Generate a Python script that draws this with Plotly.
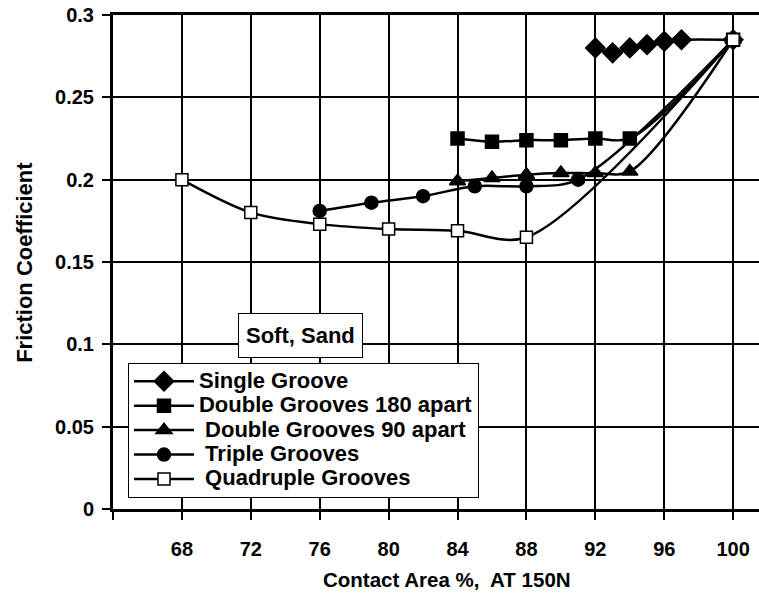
import plotly.graph_objects as go

# ---- data ----
single_x = [92, 93, 94, 95, 96, 97, 100]
single_y = [0.280, 0.277, 0.280, 0.282, 0.284, 0.285, 0.285]

dbl180_x = [84, 86, 88, 90, 92, 94, 100]
dbl180_y = [0.225, 0.223, 0.224, 0.224, 0.225, 0.225, 0.285]

dbl90_x = [84, 86, 88, 90, 92, 94, 100]
dbl90_y = [0.199, 0.201, 0.203, 0.204, 0.204, 0.205, 0.285]

triple_x = [76, 79, 82, 85, 88, 91, 100]
triple_y = [0.181, 0.186, 0.190, 0.196, 0.196, 0.200, 0.285]

quad_x = [68, 72, 76, 80, 84, 88, 100]
quad_y = [0.200, 0.180, 0.173, 0.170, 0.169, 0.165, 0.285]

x_tickvals = [64, 68, 72, 76, 80, 84, 88, 92, 96, 100]
x_ticktext = ["", "68", "72", "76", "80", "84", "88", "92", "96", "100"]
y_tickvals = [0, 0.05, 0.1, 0.15, 0.2, 0.25, 0.3]
y_ticktext = ["0", "0.05", "0.1", "0.15", "0.2", "0.25", "0.3"]

series = [
    ("Single Groove", single_x, single_y, "diamond", "black", 15),
    ("Double Grooves 180 apart", dbl180_x, dbl180_y, "square", "black", 13),
    ("&nbsp;Double Grooves 90 apart", dbl90_x, dbl90_y, "triangle-up", "black", 14),
    ("&nbsp;Triple Grooves", triple_x, triple_y, "circle", "black", 13),
    ("&nbsp;Quadruple Grooves", quad_x, quad_y, "square", "white", 12),
]

FONT = "Arial, Liberation Sans, sans-serif"
LEG_SIZE = 22

fig = go.Figure()
for name, xs, ys, sym, fill, size in series:
    fig.add_trace(go.Scatter(
        x=xs, y=ys,
        name=f'<span style="font-size:{LEG_SIZE}px">{name}</span>',
        mode="lines+markers",
        line=dict(color="black", width=2.5, shape="spline", smoothing=0.9),
        marker=dict(symbol=sym, color=fill, size=size,
                    line=dict(color="black", width=1.5)),
        cliponaxis=False,
    ))

fig.update_layout(
    width=759, height=601,
    margin=dict(l=113, r=0, t=15, b=92),
    paper_bgcolor="white", plot_bgcolor="white",
    font=dict(family=FONT, size=20, color="black", weight="bold"),
    showlegend=True,
    legend=dict(
        x=0.0232, y=0.0223, xanchor="left", yanchor="bottom",
        bgcolor="white", bordercolor="black", borderwidth=1,
        font=dict(family=FONT, size=16.5, color="black", weight="bold"),
        itemwidth=60,
    ),
    xaxis=dict(
        range=[64, 101.5], tickmode="array",
        tickvals=x_tickvals, ticktext=x_ticktext,
        showgrid=True, gridcolor="black", gridwidth=1.5,
        showline=True, linecolor="black", linewidth=3, mirror=True,
        ticks="outside", ticklen=8, tickwidth=1.5, tickcolor="black",
        ticklabelstandoff=12, ticklabeloverflow="allow",
        zeroline=False, automargin=False,
        tickfont=dict(family=FONT, size=20, weight="bold"),
    ),
    yaxis=dict(
        range=[0, 0.3], tickmode="array",
        tickvals=y_tickvals, ticktext=y_ticktext,
        showgrid=True, gridcolor="black", gridwidth=1.5,
        showline=True, linecolor="black", linewidth=3,
        ticks="outside", ticklen=8, tickwidth=1.5, tickcolor="black",
        ticklabelstandoff=4, ticklabeloverflow="allow",
        zeroline=False, automargin=False,
        tickfont=dict(family=FONT, size=20, weight="bold"),
    ),
    annotations=[
        dict(x=0.290, y=0.3506, xref="paper", yref="paper",
             xanchor="center", yanchor="middle",
             text="Soft, Sand", showarrow=False, height=29,
             font=dict(family=FONT, size=22, color="black", weight="bold"),
             bgcolor="white", bordercolor="black", borderwidth=1,
             borderpad=7),
        dict(x=0.517, y=-0.1437, xref="paper", yref="paper",
             xanchor="center", yanchor="middle",
             text="Contact Area %,&nbsp; AT 150N", showarrow=False,
             font=dict(family=FONT, size=20.5, color="black", weight="bold")),
        dict(x=-0.138, y=0.5, xref="paper", yref="paper",
             xanchor="center", yanchor="middle", textangle=-90,
             text="Friction Coefficient", showarrow=False,
             font=dict(family=FONT, size=22, color="black", weight="bold")),
    ],
)

# remove the default 8px page margin so the figure fills the window exactly
fig.write_html("out.html",
               config={"displayModeBar": False},
               post_script="document.body.style.margin='0px';")
